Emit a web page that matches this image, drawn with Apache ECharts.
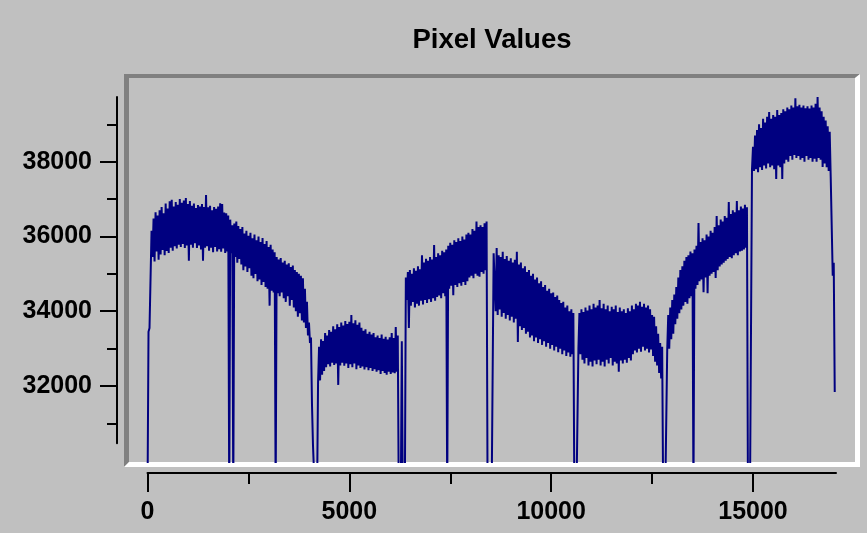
<!DOCTYPE html>
<html>
<head>
<meta charset="utf-8">
<script src="https://cdn.jsdelivr.net/npm/echarts@6/dist/echarts.min.js"></script>
<style>
html,body{margin:0;padding:0;background:#c0c0c0;}
#chart{width:867px;height:533px;}
</style>
</head>
<body>
<div id="chart"></div>
<script>
// ---------------- DATA ----------------
const chartTitle = 'Pixel Values';
const sampleStep = 25;                       // pixel-index distance between successive samples
const xMajorTicks = [0, 5000, 10000, 15000];
const xMinorTicks = [2500, 7500, 12500];
const yMajorTicks = [32000, 34000, 36000, 38000];
const yMinorTicks = [31000, 33000, 35000, 37000, 39000];

// successive samples (alternating peaks/troughs of the noisy trace)
const plateau1 = [
  29000,33450, 33550,33500, 36150,35450, 36480,35330, 36650,35600, 36560,35380, 36700,35520, 36790,35640,
  36620,35500, 36880,35610, 36750,35560, 36940,35700, 36980,35620, 36800,35740, 36920,35680, 36850,35780,
  37000,35720, 36900,35800, 36960,35690, 37030,35760, 36870,35350, 36950,35780, 36820,35700, 36880,35820,
  36760,35690, 36840,35760, 36800,35650, 36870,35350, 36790,35700, 37110,35740, 36780,35620, 36820,35700,
  36700,35580, 36790,35720, 36740,35600, 36800,35660, 36890,35590, 36870,35680, 36640,35560, 36620,35600,
  36560,29000, 36450,35550, 36300,29000, 36350,35450, 36400,35300, 36280,35400, 36200,35250, 36250,35100,
  36080,35200, 36150,35050, 36020,35150, 36100,34950, 35950,34880, 36050,35000, 35900,34800, 36000,34850,
  35850,34700, 35960,34780, 35800,34650, 35880,34600, 35720,34150, 35780,34550, 35650,34500, 35580,29000,
  35450,34480, 35380,34400, 35420,34500, 35300,34350, 35350,34250, 35250,34400, 35280,34150, 35180,34300,
  35220,34100, 35100,34000, 35050,33850, 35000,33950, 34950,33750, 34880,33700, 34600,33550, 34250,33350,
  33700,33150, 33300,31500, 30400,30350, 29000,29000, 29000,32080
];
const plateau2 = [
  33050,32150, 33250,32300, 33200,32400, 33420,32500, 33350,32580, 33500,32520, 33450,32620, 33600,32560,
  33520,32600, 33650,32030, 33580,32550, 33700,32620, 33620,32540, 33740,32600, 33660,32480, 33720,32580,
  33900,32500, 33680,32600, 33760,32450, 33640,32550, 33700,32480, 33560,32520, 33480,32440, 33520,32500,
  33400,32420, 33450,32480, 33380,32400, 33420,32450, 33300,32380, 33350,32420, 33280,32320, 33380,32400,
  33260,32350, 33320,32300, 33240,32380, 33300,32320, 33420,32360, 33280,32340, 33580,32380, 33350,29000,
  29000,29000, 33200,29000, 29000,29000
];
const plateau3 = [
  34900,34300, 35050,33550, 35100,34150, 35000,34250, 35150,34100, 35080,34200, 35200,34150, 35120,34280,
  35500,34180, 35300,34300, 35400,34220, 35350,34320, 35450,34250, 35380,34350, 35770,34280, 35450,34380,
  35550,34420, 35500,34350, 35620,34480, 35580,34400, 35650,29000, 35750,34600, 35830,34680, 35780,34430,
  35900,34700, 35850,34650, 35950,34750, 35880,34680, 36000,34780, 35920,34700, 36050,34800, 36100,34900,
  36050,34950, 36200,34880, 36150,35000, 36400,34950, 36250,34920, 36300,35050, 36250,35000, 36350,35100,
  36400,29000, 29000,29000, 29000,29000, 29000,35550
];
const plateau4 = [
  35600,34000, 35690,33900, 35500,34050, 35450,33850, 35590,33950, 35400,33800, 35480,33900, 35350,33750,
  35420,33850, 35300,33700, 35380,33800, 35590,33180, 35250,33600, 35300,33500, 35150,33550, 35200,33400,
  35050,33450, 35100,33300, 34950,33350, 35000,33200, 34850,33300, 34900,33150, 34750,33250, 34800,33100,
  34650,33200, 34700,33050, 34550,33150, 34600,33000, 34480,33100, 34500,32950, 34380,33050, 34420,32900,
  34300,33000, 34220,32850, 34250,32950, 34100,32800, 34150,32900, 34000,32780, 34050,32850, 33950,29000,
  29000,29000, 29000,33000
];
const plateau5 = [
  33950,32850, 34050,32700, 33980,32600, 34100,32750, 34020,32550, 34150,32650, 34050,32520, 34200,32680,
  34100,32580, 34150,32700, 34300,32550, 34080,32650, 34200,32520, 34050,32700, 34150,32600, 34000,32750,
  34120,32550, 34050,32650, 34150,32600, 33980,32380, 34100,32680, 34000,32600, 34050,32700, 33950,32620,
  34080,32750, 34000,32680, 34150,32850, 34050,32950, 34200,32900, 34150,33000, 34250,32920, 34120,33050,
  34200,32950, 34100,33000, 34150,32900, 34050,32980, 33900,32800, 33850,32650, 33600,32550, 33400,32350,
  33150,32200, 33050,29000, 29000,29000, 29000,32970
];
const plateau6 = [
  33900,33000, 34100,33250, 34300,33400, 34450,33650, 34650,33800, 34900,33950, 35100,34050, 35200,34150,
  35350,34250, 35450,34200, 35500,34350, 35600,34400, 35550,29000, 35650,34600, 35750,34700, 36360,34800,
  35850,34850, 35950,34510, 35900,34900, 36050,34480, 36000,34950, 36150,35000, 36100,35050, 36250,34890,
  36550,35100, 36300,35200, 36450,35250, 36400,35300, 36550,35350, 36500,35400, 36920,35450, 36600,35420,
  36700,35500, 36650,35550, 36950,35500, 36700,35600, 36800,35620, 36750,35650, 36850,35700, 36780,29000,
  29000,29000, 29000,37800
];
const plateau7 = [
  38400,37750, 38700,37800, 38850,37720, 39000,37850, 38900,37780, 39150,37900, 39050,37820, 39200,37950,
  39330,37850, 39150,37900, 39250,37800, 39200,37540, 39380,37900, 39250,37850, 39300,37540, 39400,37950,
  39350,38050, 39450,38000, 39400,38150, 39500,38050, 39450,38180, 39700,38100, 39480,38150, 39520,38050,
  39450,38100, 39500,38000, 39430,38150, 39480,38050, 39420,38100, 39500,38000, 39450,38080, 39550,38000,
  39730,38100, 39450,38050, 39350,37860, 39200,37950, 39100,37850, 38950,37750, 38800,37600, 37600,34950,
  35300,31840
];

// ---------------- LAYOUT (pixels of the 867x533 picture) ----------------
const PLOT = {left: 129, top: 78, right: 855, bottom: 462};     // inner plot window
const BEVEL = 5;
const X_AXIS = {start: 147.5, end: 836, y: 473};
const Y_AXIS = {top: 97, bottom: 443.3, x: 117};
// calibration of value <-> pixel taken from two tick marks of each axis
const xRef = {v0: 0, p0: 147.5, v1: 15000, p1: 753};
const yRef = {v0: 32000, p0: 386, v1: 38000, p1: 161.7};
const xPerPx = (xRef.v1 - xRef.v0) / (xRef.p1 - xRef.p0);
const yPerPx = (yRef.v1 - yRef.v0) / (yRef.p0 - yRef.p1);
const xVal = p => xRef.v0 + (p - xRef.p0) * xPerPx;
const yVal = p => yRef.v0 + (yRef.p0 - p) * yPerPx;

const FONT = '"Liberation Sans", Arial, Helvetica, sans-serif';
const LINE_COLOR = '#000080';

const values = [].concat(plateau1, plateau2, plateau3, plateau4, plateau5, plateau6, plateau7);
const seriesData = values.map((v, k) => [k * sampleStep, v]);

const chart = echarts.init(document.getElementById('chart'), null, {renderer: 'canvas'});

const axisStyle = {lineStyle: {color: '#000', width: 2}};
const labelStyle = {color: '#000', fontFamily: FONT, fontWeight: 'bold', fontSize: 25,
                    formatter: v => String(Math.round(v))};

const F = {l: PLOT.left - BEVEL, t: PLOT.top - BEVEL + 1, r: PLOT.right + BEVEL, b: PLOT.bottom + BEVEL};

chart.setOption({
  animation: false,
  backgroundColor: '#c0c0c0',
  grid: [
    {left: PLOT.left, top: PLOT.top, width: PLOT.right - PLOT.left, height: PLOT.bottom - PLOT.top,
     containLabel: false, outerBoundsMode: 'none', show: false},
    {left: X_AXIS.start, top: Y_AXIS.top, width: X_AXIS.end - X_AXIS.start, height: Y_AXIS.bottom - Y_AXIS.top,
     containLabel: false, outerBoundsMode: 'none', show: false}
  ],
  xAxis: [
    {gridIndex: 0, type: 'value', min: xVal(PLOT.left), max: xVal(PLOT.right), show: false},
    {gridIndex: 1, type: 'value', min: xVal(X_AXIS.start), max: xVal(X_AXIS.end), position: 'bottom',
     offset: X_AXIS.y - Y_AXIS.bottom,
     axisLine: {show: true, onZero: false, lineStyle: axisStyle.lineStyle},
     axisTick: {show: true, inside: false, length: 19, customValues: xMajorTicks, lineStyle: {color: '#000', width: 2}},
     axisLabel: Object.assign({show: true, margin: 27, customValues: xMajorTicks}, labelStyle),
     splitLine: {show: false}, minorTick: {show: false}},
    {gridIndex: 1, type: 'value', min: xVal(X_AXIS.start), max: xVal(X_AXIS.end), position: 'bottom',
     offset: X_AXIS.y - Y_AXIS.bottom,
     axisLine: {show: false, onZero: false},
     axisTick: {show: true, inside: false, length: 11, customValues: xMinorTicks, lineStyle: {color: '#000', width: 2}},
     axisLabel: {show: false}, splitLine: {show: false}}
  ],
  yAxis: [
    {gridIndex: 0, type: 'value', min: yVal(PLOT.bottom), max: yVal(PLOT.top), show: false},
    {gridIndex: 1, type: 'value', min: yVal(Y_AXIS.bottom), max: yVal(Y_AXIS.top), position: 'left',
     offset: X_AXIS.start - Y_AXIS.x,
     axisLine: {show: true, onZero: false, lineStyle: axisStyle.lineStyle},
     axisTick: {show: true, inside: false, length: 17, customValues: yMajorTicks, lineStyle: {color: '#000', width: 2}},
     axisLabel: Object.assign({show: true, margin: 25, customValues: yMajorTicks}, labelStyle),
     splitLine: {show: false}},
    {gridIndex: 1, type: 'value', min: yVal(Y_AXIS.bottom), max: yVal(Y_AXIS.top), position: 'left',
     offset: X_AXIS.start - Y_AXIS.x,
     axisLine: {show: false, onZero: false},
     axisTick: {show: true, inside: false, length: 10, customValues: yMinorTicks, lineStyle: {color: '#000', width: 2}},
     axisLabel: {show: false}, splitLine: {show: false}}
  ],
  graphic: [
    {type: 'polygon', silent: true, z: 1,
     shape: {points: [[F.l, F.t], [F.r, F.t], [PLOT.right, PLOT.top], [PLOT.left, PLOT.top], [PLOT.left, PLOT.bottom], [F.l, F.b]]},
     style: {fill: '#808080'}},
    {type: 'polygon', silent: true, z: 1,
     shape: {points: [[F.r, F.t], [F.r, F.b], [F.l, F.b], [PLOT.left, PLOT.bottom], [PLOT.right, PLOT.bottom], [PLOT.right, PLOT.top]]},
     style: {fill: '#ffffff'}},
    {type: 'text', silent: true, x: 492, y: 40,
     style: {text: chartTitle, fill: '#000', font: 'bold 27.5px ' + FONT, textAlign: 'center', textVerticalAlign: 'middle'}}
  ],
  series: [{
    type: 'line', xAxisIndex: 0, yAxisIndex: 0, data: seriesData,
    symbol: 'none', sampling: null, clip: true, z: 3,
    lineStyle: {color: LINE_COLOR, width: 2},
    emphasis: {disabled: true}
  }]
});
</script>
</body>
</html>
